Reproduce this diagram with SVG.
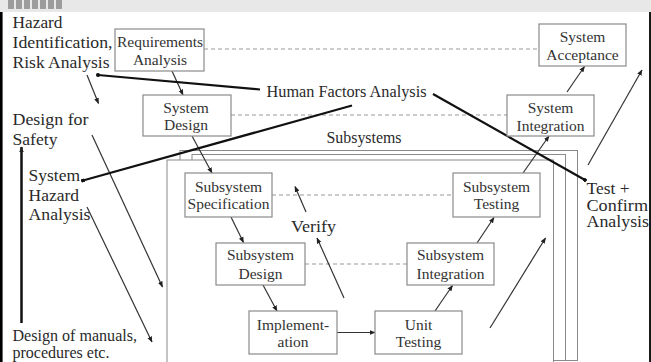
<svg xmlns="http://www.w3.org/2000/svg" width="651" height="362" viewBox="0 0 651 362">
<defs>
<marker id="ah" viewBox="0 0 10 10" refX="9" refY="5" markerWidth="6" markerHeight="6" markerUnits="userSpaceOnUse" orient="auto">
<path d="M0,1 L10,5 L0,9 z" fill="#222"/>
</marker>
<marker id="dot" viewBox="0 0 10 10" refX="5" refY="5" markerWidth="4" markerHeight="4" markerUnits="userSpaceOnUse" orient="auto">
<circle cx="5" cy="5" r="5" fill="#111"/>
</marker>
<style>
.box{fill:#fff;stroke:#8a8a8a;stroke-width:1.2}
.frame{fill:#fff;stroke:#8a8a8a;stroke-width:1}
.bt{font-family:"Liberation Serif","Times New Roman",serif;font-size:15.5px;fill:#333;text-anchor:middle}
.lt{font-family:"Liberation Serif","Times New Roman",serif;font-size:16px;fill:#2a2a2a}
.dash{stroke:#999;stroke-width:1;stroke-dasharray:4 3;fill:none}
.arr{stroke:#333;stroke-width:1.2;fill:none;marker-end:url(#ah)}
.thick{stroke:#111;stroke-width:2.2;fill:none;marker-start:url(#dot)}
</style>
</defs>
<rect x="0" y="0" width="651" height="362" fill="#fff"/>
<rect x="0" y="0" width="651" height="12" fill="#e8e8e8"/>
<g fill="#9c9c9c">
<rect x="8" y="0" width="6" height="9"/><rect x="16" y="0" width="6" height="9"/><rect x="24" y="0" width="6" height="9"/><rect x="32" y="0" width="6" height="9"/><rect x="40" y="0" width="6" height="9"/><rect x="48" y="0" width="6" height="9"/><rect x="56" y="0" width="6" height="9"/>
</g>
<line x1="1.3" y1="12" x2="1.3" y2="362" stroke="#000" stroke-width="2.6"/>
<line x1="650" y1="12" x2="650" y2="362" stroke="#000" stroke-width="1.8"/>

<g id="subsystems-frame">
<rect class="frame" x="180" y="150.5" width="397.5" height="210"/>
<rect class="frame" x="192" y="154.5" width="373.5" height="206"/>
<rect class="frame" x="167" y="160" width="386.5" height="205"/>
</g>

<g id="connectors">
<line class="dash" x1="204" y1="49" x2="539" y2="49"/>
<line class="dash" x1="231" y1="115" x2="507" y2="115"/>
<line class="dash" x1="272" y1="195" x2="453" y2="195"/>
<line class="dash" x1="305" y1="264" x2="407" y2="264"/>

<line class="arr" x1="172" y1="71" x2="183" y2="95"/>
<line class="arr" x1="192" y1="136" x2="212" y2="173"/>
<line class="arr" x1="231" y1="217" x2="243.5" y2="242.5"/>
<line class="arr" x1="263" y1="285" x2="277" y2="311"/>
<line class="arr" x1="337" y1="332.5" x2="375" y2="332.5"/>
<line class="arr" x1="435" y1="311" x2="452.5" y2="285.5"/>
<line class="arr" x1="477" y1="243" x2="494" y2="217.5"/>
<line class="arr" x1="523" y1="173" x2="549" y2="136"/>
<line class="arr" x1="567" y1="92" x2="584.5" y2="66.5"/>

<line class="arr" x1="306" y1="212" x2="295" y2="186.5"/>
<line class="arr" x1="344" y1="298" x2="317" y2="238"/>

<line class="arr" x1="87" y1="75" x2="98.5" y2="103.5"/>
<line class="arr" x1="92" y1="135" x2="162.5" y2="287"/>
<line class="arr" x1="87" y1="207" x2="152" y2="342"/>
<line class="arr" x1="490" y1="328" x2="545.5" y2="238"/>
<line class="arr" x1="588" y1="165" x2="642" y2="70"/>

<line x1="21.5" y1="323" x2="21.5" y2="147" stroke="#111" stroke-width="2.5" marker-end="url(#ah)"/>

<line class="thick" x1="98" y1="75" x2="260" y2="89.5"/>
<line class="thick" x1="585" y1="180" x2="433" y2="94"/>
<line class="thick" x1="83" y1="180.5" x2="352" y2="105.5"/>
</g>

<g id="requirements-analysis">
<rect class="box" x="115" y="29" width="89" height="42"/>
<text class="bt" x="160" y="46.5">Requirements</text>
<text class="bt" x="160" y="65">Analysis</text>
</g>
<g id="system-design">
<rect class="box" x="143" y="95" width="88" height="41"/>
<text class="bt" x="186" y="112.5">System</text>
<text class="bt" x="186" y="130">Design</text>
</g>
<g id="system-acceptance">
<rect class="box" x="539" y="24" width="87" height="42"/>
<text class="bt" x="582.5" y="41.5">System</text>
<text class="bt" x="582.5" y="60">Acceptance</text>
</g>
<g id="system-integration">
<rect class="box" x="507" y="95" width="87" height="41"/>
<text class="bt" x="550.5" y="113">System</text>
<text class="bt" x="550.5" y="130.5">Integration</text>
</g>
<g id="subsystem-specification">
<rect class="box" x="185" y="173" width="87" height="44"/>
<text class="bt" x="228.5" y="191.5">Subsystem</text>
<text class="bt" x="228.5" y="209">Specification</text>
</g>
<g id="subsystem-testing">
<rect class="box" x="453" y="173" width="87" height="44"/>
<text class="bt" x="496.5" y="191.5">Subsystem</text>
<text class="bt" x="496.5" y="209">Testing</text>
</g>
<g id="subsystem-design">
<rect class="box" x="216" y="243" width="89" height="42"/>
<text class="bt" x="260.5" y="260">Subsystem</text>
<text class="bt" x="260.5" y="278.5">Design</text>
</g>
<g id="subsystem-integration">
<rect class="box" x="407" y="243" width="87" height="42"/>
<text class="bt" x="450.5" y="260">Subsystem</text>
<text class="bt" x="450.5" y="278.5">Integration</text>
</g>
<g id="implementation">
<rect class="box" x="249" y="311" width="88" height="43"/>
<text class="bt" x="293" y="329.5">Implement-</text>
<text class="bt" x="293" y="347">ation</text>
</g>
<g id="unit-testing">
<rect class="box" x="375" y="311" width="87" height="43"/>
<text class="bt" x="418.5" y="329.5">Unit</text>
<text class="bt" x="418.5" y="347">Testing</text>
</g>

<g id="labels">
<text class="lt" x="12.5" y="28" textLength="50" lengthAdjust="spacingAndGlyphs">Hazard</text>
<text class="lt" x="12.5" y="48" textLength="100" lengthAdjust="spacingAndGlyphs">Identification,</text>
<text class="lt" x="12.5" y="67.5" textLength="97" lengthAdjust="spacingAndGlyphs">Risk Analysis</text>
<text class="lt" x="12.5" y="125" textLength="76" lengthAdjust="spacingAndGlyphs">Design for</text>
<text class="lt" x="12.5" y="145" textLength="45" lengthAdjust="spacingAndGlyphs">Safety</text>
<text class="lt" x="28.5" y="181" textLength="51.5" lengthAdjust="spacingAndGlyphs">System</text>
<text class="lt" x="28.5" y="201" textLength="50.5" lengthAdjust="spacingAndGlyphs">Hazard</text>
<text class="lt" x="28.5" y="220" textLength="62" lengthAdjust="spacingAndGlyphs">Analysis</text>
<text class="lt" x="266.5" y="97" textLength="160" lengthAdjust="spacingAndGlyphs">Human Factors Analysis</text>
<text class="lt" x="326.5" y="142.5" textLength="75" lengthAdjust="spacingAndGlyphs">Subsystems</text>
<text class="lt" x="291" y="231.5" style="font-size:17px" textLength="45" lengthAdjust="spacingAndGlyphs">Verify</text>
<text class="lt" x="586.5" y="194" textLength="43" lengthAdjust="spacingAndGlyphs">Test +</text>
<text class="lt" x="586.5" y="210.5" textLength="61.5" lengthAdjust="spacingAndGlyphs">Confirm</text>
<text class="lt" x="586.5" y="227" textLength="62.5" lengthAdjust="spacingAndGlyphs">Analysis</text>
<text class="lt" x="12.5" y="341" textLength="124.5" lengthAdjust="spacingAndGlyphs">Design of manuals,</text>
<text class="lt" x="12.5" y="358" textLength="97" lengthAdjust="spacingAndGlyphs">procedures etc.</text>
</g>
</svg>
